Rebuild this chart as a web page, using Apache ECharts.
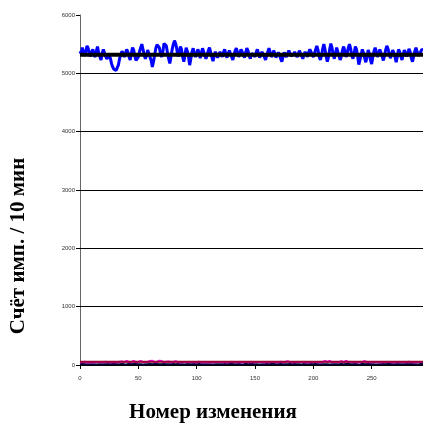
<!DOCTYPE html>
<html><head><meta charset="utf-8">
<script src="https://cdn.jsdelivr.net/npm/echarts@6/dist/echarts.min.js"></script>
<style>html,body{margin:0;padding:0;background:#fff;overflow:hidden}#c{width:423px;height:428px}</style>
</head><body><div id="c"></div>
<script>
var xTicks = [0, 50, 100, 150, 200, 250];
var yTicks = [0, 1000, 2000, 3000, 4000, 5000, 6000];
var gridValues = [1000, 2000, 3000, 4000, 5000];
var xMax = 294;
var countMean = 5320;
var bgMean = 55;
var counts = [
5380,5340,5440,5410,5300,5370,5470,5430,5340,5290,
5370,5410,5320,5280,5380,5460,5350,5290,5230,5340,
5410,5350,5290,5250,5220,5300,5260,5170,5110,5070,
5090,5050,5100,5150,5260,5320,5380,5340,5280,5350,
5410,5370,5290,5230,5340,5440,5400,5300,5220,5190,
5280,5370,5440,5500,5410,5320,5250,5300,5400,5340,
5280,5220,5110,5200,5320,5430,5490,5520,5440,5340,
5280,5370,5510,5530,5470,5350,5250,5170,5290,5410,
5500,5560,5510,5410,5290,5350,5460,5410,5280,5200,
5320,5440,5380,5290,5140,5250,5370,5430,5340,5280,
5300,5410,5360,5260,5340,5430,5370,5300,5250,5320,
5390,5440,5360,5280,5210,5300,5370,5340,5270,5320,
5370,5340,5280,5360,5410,5320,5270,5340,5390,5360,
5280,5230,5320,5390,5430,5360,5280,5340,5410,5370,
5320,5270,5360,5430,5390,5300,5250,5340,5370,5320,
5280,5360,5410,5340,5270,5300,5370,5360,5280,5230,
5300,5370,5430,5360,5280,5320,5390,5340,5270,5300,
5360,5320,5250,5200,5280,5360,5320,5280,5340,5390,
5360,5300,5270,5320,5370,5340,5280,5320,5390,5360,
5300,5250,5320,5370,5340,5280,5360,5410,5370,5320,
5280,5340,5410,5470,5400,5290,5230,5300,5420,5500,
5410,5290,5200,5280,5410,5510,5440,5320,5250,5340,
5440,5410,5300,5230,5290,5400,5460,5380,5280,5340,
5440,5500,5420,5300,5250,5350,5460,5410,5290,5150,
5180,5320,5410,5350,5260,5190,5280,5400,5340,5230,
5160,5280,5380,5440,5370,5280,5340,5410,5350,5290,
5220,5300,5400,5470,5420,5340,5260,5320,5400,5350,
5280,5190,5290,5410,5370,5290,5230,5320,5400,5350,
5290,5350,5420,5370,5260,5200,5290,5380,5440,5370,
5300,5280,5370,5410,5400
];
var background = [
48,52,45,50,55,47,44,51,49,46,
50,53,47,45,52,48,50,46,49,51,
47,50,54,48,45,50,52,47,49,46,
50,48,45,52,55,49,62,58,50,47,
70,52,48,68,50,46,72,55,49,65,
51,47,70,53,48,66,50,74,52,47,
68,50,72,55,48,70,52,47,75,50,
68,53,49,72,56,80,60,50,47,70,
52,48,66,50,47,52,49,46,51,48,
50,53,47,45,52,48,50,46,49,51,
47,50,54,48,45,50,52,47,49,46,
50,48,45,52,49,47,51,48,50,46,
52,49,47,50,53,48,46,51,49,47,
50,48,52,47,49,51,46,50,48,52,
49,47,51,66,50,62,48,46,50,52,
47,49,51,48,50,46,49,52,48,47,
50,53,47,45,52,48,50,46,49,51,
47,50,54,48,45,50,52,47,64,46,
50,48,45,52,49,47,51,48,50,46,
52,49,47,50,53,48,46,51,49,47,
50,48,52,47,49,68,46,50,48,52,
72,47,51,48,70,52,47,68,50,46,
52,70,48,46,66,50,47,52,70,49,
51,47,50,48,52,46,49,51,48,50,
47,72,50,48,68,52,47,50,49,51,
48,66,50,47,52,49,46,51,48,50,
47,49,51,48,50,46,49,52,48,47,
50,53,47,45,52,48,50,46,49,51,
47,50,54,48,45,50,52,47,49,46,
50,48,52,49,47
];
var lowCounts = [
15,12,18,10,14,20,11,16,13,9,
14,17,12,19,10,15,13,18,11,16,
12,20,14,10,17,13,15,11,18,12,
16,10,14,19,12,15,17,11,13,18,
10,15,20,12,14,11,17,13,16,9,
14,18,12,15,10,16,13,19,11,14,
17,12,15,10,18,13,16,11,14,20,
12,15,17,10,13,18,11,16,14,12,
19,10,15,13,17,11,14,18,12,16,
10,14,17,12,15,19,11,13,16,10,
15,12,18,10,14,20,11,16,13,9,
14,17,12,19,10,15,13,18,11,16,
12,20,14,10,17,13,15,11,18,12,
16,10,14,19,12,15,17,11,13,18,
10,15,20,12,14,11,17,13,16,9,
14,18,12,15,10,16,13,19,11,14,
17,12,15,10,18,13,16,11,14,20,
12,15,17,10,13,18,11,16,14,12,
19,10,15,13,17,11,14,18,12,16,
10,14,17,12,15,19,11,13,16,10,
15,12,18,10,14,20,11,16,13,9,
14,17,12,19,10,15,13,18,11,16,
12,20,14,10,17,13,15,11,18,12,
16,10,14,19,12,15,17,11,13,18,
10,15,20,12,14,11,17,13,16,9,
14,18,12,15,10,16,13,19,11,14,
17,12,15,10,18,13,16,11,14,20,
12,15,17,10,13,18,11,16,14,12,
19,10,15,13,17,11,14,18,12,16,
10,14,17,12,15
];
var xTitle = 'Номер изменения';
var yTitle = 'Счёт имп. / 10 мин';

function pairs(arr){ return arr.map(function(v,i){ return [i, v]; }); }

var titleStyle = { fontFamily: 'Liberation Serif', fontWeight: 'bold', fontSize: 21, color: '#000' };

var chart = echarts.init(document.getElementById('c'), null, {renderer:'canvas'});
chart.setOption({
  animation: false,
  backgroundColor: '#fff',
  grid: { show: false, left: 78, right: 0, top: 15, bottom: 58, containLabel: false },
  xAxis: {
    type: 'value', min: 0, max: xMax, interval: 50,
    name: xTitle, nameLocation: 'middle', nameGap: 37,
    nameTextStyle: Object.assign({ padding: [0, 77, 0, 0] }, titleStyle),
    axisLine: { lineStyle: { color: '#000', width: 1 } },
    axisTick: { show: true, length: 4, lineStyle: { color: '#000' } },
    axisLabel: { fontSize: 6, color: '#333', margin: 10, showMaxLabel: false,
      formatter: function(v){ return String(v); } },
    splitLine: { show: false }
  },
  yAxis: {
    type: 'value', min: 0, max: 6000, interval: 1000,
    name: yTitle, nameLocation: 'middle', nameRotate: 90, nameGap: 51,
    nameTextStyle: Object.assign({ padding: [0, 112, 0, 0] }, titleStyle),
    axisLine: { show: true, lineStyle: { color: '#666', width: 1 } },
    axisTick: { show: true, length: 4, lineStyle: { color: '#000' } },
    axisLabel: { fontSize: 6, color: '#333', margin: 5,
      formatter: function(v){ return String(v); } },
    splitLine: { show: false }
  },
  series: [
    { type: 'line', data: pairs(lowCounts), symbol: 'none', lineStyle: { color: '#000033', width: 2 }, z: 2 },
    { type: 'line', data: pairs(background), symbol: 'none', lineStyle: { color: '#ff00ff', width: 2 }, z: 3 },
    { type: 'line', data: [[0, bgMean], [xMax, bgMean]], symbol: 'none', lineStyle: { color: '#990033', width: 2 }, z: 4,
      markLine: { silent: true, symbol: 'none', label: { show: false },
        lineStyle: { color: '#000', width: 1, type: 'solid' },
        data: gridValues.map(function(v){ return { yAxis: v }; }) } },
    { type: 'line', data: pairs(counts), symbol: 'none', lineStyle: { color: '#0000ff', width: 3 }, z: 5 },
    { type: 'line', data: [[0, countMean], [xMax, countMean]], symbol: 'none', lineStyle: { color: '#000', width: 4 }, z: 6 }
  ]
});
</script></body></html>
